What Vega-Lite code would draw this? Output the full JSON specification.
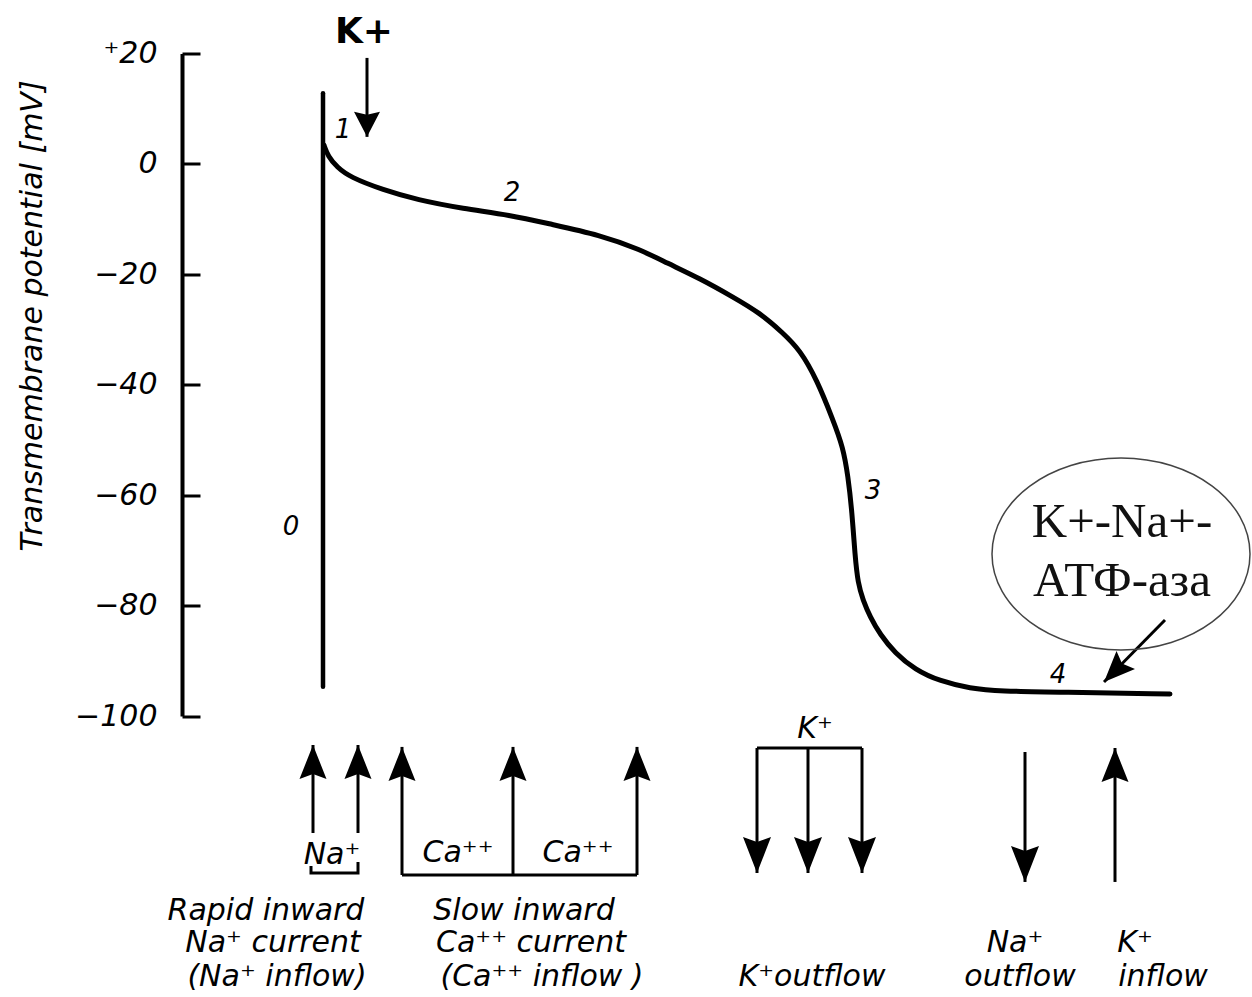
{
  "$schema": "https://vega.github.io/schema/vega-lite/v6.json",
  "width": 1070,
  "height": 662.5,
  "autosize": {"type": "none"},
  "padding": {"left": 182, "top": 53.5, "right": 0, "bottom": 281},
  "background": "white",
  "config": {"view": {"stroke": null}},
  "datasets": {
    "ap": [
      {"t": 142, "mV": 3.4}, {"t": 146, "mV": 1.4}, {"t": 155, "mV": -0.6}, {"t": 168, "mV": -2.4}, {"t": 201, "mV": -4.7},
      {"t": 235, "mV": -6.5}, {"t": 281, "mV": -8.1}, {"t": 328, "mV": -9.25}, {"t": 368, "mV": -10.88},
      {"t": 418, "mV": -12.87}, {"t": 458, "mV": -15.48}, {"t": 485, "mV": -17.95}, {"t": 518, "mV": -20.75},
      {"t": 551, "mV": -24.1}, {"t": 578, "mV": -27.0}, {"t": 601, "mV": -30.62}, {"t": 618, "mV": -33.7},
      {"t": 635, "mV": -39.14}, {"t": 651, "mV": -46.38}, {"t": 661, "mV": -51.27}, {"t": 666, "mV": -56.5},
      {"t": 670, "mV": -63.0}, {"t": 673, "mV": -71.0}, {"t": 676, "mV": -76.0}, {"t": 681, "mV": -79.0},
      {"t": 688, "mV": -82.0}, {"t": 698, "mV": -85.2}, {"t": 713, "mV": -88.6}, {"t": 733, "mV": -91.6},
      {"t": 758, "mV": -93.7}, {"t": 788, "mV": -95.0}, {"t": 818, "mV": -95.5}, {"t": 878, "mV": -95.7},
      {"t": 988, "mV": -96.0}
    ],
    "upstroke": [{"t": 141, "from": -94.7, "to": 12.8}],
    "arrows": [
      {"x0": 131, "y0": -121.19, "x1": 131, "y1": -105.25, "kind": "up"},
      {"x0": 176, "y0": -121.19, "x1": 176, "y1": -105.25, "kind": "up"},
      {"x0": 220, "y0": -128.8, "x1": 220, "y1": -105.6, "kind": "up"},
      {"x0": 331, "y0": -128.8, "x1": 331, "y1": -105.6, "kind": "up"},
      {"x0": 455, "y0": -128.8, "x1": 455, "y1": -105.6, "kind": "up"},
      {"x0": 575, "y0": -105.8, "x1": 575, "y1": -128.44, "kind": "down"},
      {"x0": 626, "y0": -105.8, "x1": 626, "y1": -128.44, "kind": "down"},
      {"x0": 680, "y0": -105.8, "x1": 680, "y1": -128.44, "kind": "down"},
      {"x0": 843, "y0": -106.52, "x1": 843, "y1": -130.06, "kind": "down"},
      {"x0": 933, "y0": -130.06, "x1": 933, "y1": -105.8, "kind": "up"},
      {"x0": 185, "y0": 19.2, "x1": 185, "y1": 4.9, "kind": "downK"},
      {"x0": 983, "y0": -82.6, "x1": 922, "y1": -93.84, "kind": "diag"}
    ],
    "brackets": [
      {"id": "Na", "seq": 0, "x": 129, "y": -127.17},
      {"id": "Na", "seq": 1, "x": 129, "y": -128.44},
      {"id": "Na", "seq": 2, "x": 176, "y": -128.44},
      {"id": "Na", "seq": 3, "x": 176, "y": -126.45},
      {"id": "Ca", "seq": 0, "x": 220, "y": -128.8},
      {"id": "Ca", "seq": 1, "x": 455, "y": -128.8},
      {"id": "K", "seq": 0, "x": 575, "y": -105.8},
      {"id": "K", "seq": 1, "x": 680, "y": -105.8}
    ],
    "pump": [{"x": 939, "y": -70.65}],
    "pumpText": [
      {"x": 940, "y": -67.57, "text": "K+-Na+-"},
      {"x": 940, "y": -78.26, "text": "АТФ-аза"}
    ],
    "phases": [
      {"x": 161, "y": 6.14, "text": "1"},
      {"x": 330, "y": -5.27, "text": "2"},
      {"x": 691, "y": -59.24, "text": "3"},
      {"x": 876, "y": -92.57, "text": "4"},
      {"x": 109, "y": -65.76, "text": "0"}
    ],
    "kTop": [{"x": 182, "y": 23.9, "text": "K+"}],
    "ions": [
      {"x": 150, "y": -125.17, "text": "Na⁺"},
      {"x": 276, "y": -124.9, "text": "Ca⁺⁺"},
      {"x": 396, "y": -124.9, "text": "Ca⁺⁺"},
      {"x": 633, "y": -102.35, "text": "K⁺"}
    ],
    "desc": [
      {"x": 84, "y": -135.3, "text": "Rapid inward"},
      {"x": 91, "y": -141.1, "text": "Na⁺ current"},
      {"x": 95, "y": -147.27, "text": "(Na⁺ inflow)"},
      {"x": 342, "y": -135.3, "text": "Slow inward"},
      {"x": 349, "y": -141.1, "text": "Ca⁺⁺ current"},
      {"x": 360, "y": -147.27, "text": "(Ca⁺⁺ inflow )"},
      {"x": 630, "y": -147.27, "text": "K⁺outflow"},
      {"x": 833, "y": -141.1, "text": "Na⁺"},
      {"x": 838, "y": -147.27, "text": "outflow"},
      {"x": 953, "y": -141.1, "text": "K⁺"},
      {"x": 981, "y": -147.27, "text": "inflow"}
    ]
  },
  "layer": [
    {
      "data": {"name": "ap"},
      "mark": {"type": "line", "color": "black", "strokeWidth": 5, "interpolate": "basis", "strokeCap": "round"},
      "encoding": {
        "x": {"field": "t", "type": "quantitative", "scale": {"domain": [0, 1070], "nice": false, "zero": false}, "axis": null},
        "y": {
          "field": "mV", "type": "quantitative",
          "scale": {"domain": [-100, 20], "nice": false, "zero": false},
          "title": "Transmembrane potential [mV]",
          "axis": {
            "values": [-100, -80, -60, -40, -20, 0, 20],
            "labelExpr": "datum.value > 0 ? '⁺' + datum.label : datum.label",
            "labelFont": "DejaVu Sans", "labelFontStyle": "italic", "labelFontSize": 30, "labelColor": "black",
            "labelPadding": 43, "labelFlush": false, "labelOverlap": false, "labelBound": false,
            "tickSize": -18, "tickWidth": 3, "tickColor": "black",
            "domainWidth": 4, "domainColor": "black", "grid": false,
            "titleFont": "DejaVu Sans", "titleFontStyle": "italic", "titleFontWeight": "normal", "titleFontSize": 30,
            "titleColor": "black", "titleX": -150, "titleY": 262, "titleAngle": -90, "titleAlign": "center", "titleBaseline": "middle"
          }
        }
      }
    },
    {
      "data": {"name": "upstroke"},
      "mark": {"type": "rule", "color": "black", "strokeWidth": 4.5, "strokeCap": "round"},
      "encoding": {
        "x": {"field": "t", "type": "quantitative"},
        "y": {"field": "from", "type": "quantitative"},
        "y2": {"field": "to"}
      }
    },
    {
      "data": {"name": "arrows"},
      "mark": {"type": "rule", "color": "black", "strokeWidth": 3},
      "encoding": {
        "x": {"field": "x0", "type": "quantitative"},
        "x2": {"field": "x1"},
        "y": {"field": "y0", "type": "quantitative"},
        "y2": {"field": "y1"}
      }
    },
    {
      "data": {"name": "arrows"},
      "mark": {"type": "point", "filled": true, "size": 400, "color": "black", "opacity": 1, "strokeWidth": 0},
      "encoding": {
        "x": {"field": "x1", "type": "quantitative"},
        "y": {"field": "y1", "type": "quantitative"},
        "shape": {
          "field": "kind", "type": "nominal", "legend": null,
          "scale": {
            "domain": ["up", "down", "downK", "diag"],
            "range": [
              "M0,0L1.35,3.4L0,2.9L-1.35,3.4Z",
              "M0,0L1.4,-3.6L0,-3.1L-1.4,-3.6Z",
              "M0,0L1.3,-2.5L0,-2.2L-1.3,-2.5Z",
              "M0,0L3.1,-1.3L1.8,-1.85L1.25,-3.1Z"
            ]
          }
        }
      }
    },
    {
      "data": {"name": "brackets"},
      "mark": {"type": "line", "color": "black", "strokeWidth": 3},
      "encoding": {
        "x": {"field": "x", "type": "quantitative"},
        "y": {"field": "y", "type": "quantitative"},
        "detail": {"field": "id", "type": "nominal"},
        "order": {"field": "seq", "type": "quantitative"}
      }
    },
    {
      "data": {"name": "pump"},
      "mark": {
        "type": "point", "filled": false, "size": 40000, "stroke": "#444444", "strokeWidth": 1.5, "opacity": 1,
        "shape": "M1.29,0C1.29,0.5302,0.7125,0.96,0,0.96C-0.7125,0.96,-1.29,0.5302,-1.29,0C-1.29,-0.5302,-0.7125,-0.96,0,-0.96C0.7125,-0.96,1.29,-0.5302,1.29,0Z"
      },
      "encoding": {
        "x": {"field": "x", "type": "quantitative"},
        "y": {"field": "y", "type": "quantitative"}
      }
    },
    {
      "data": {"name": "pumpText"},
      "mark": {"type": "text", "font": "Liberation Serif", "fontSize": 49, "color": "#111111", "align": "center", "baseline": "alphabetic"},
      "encoding": {
        "x": {"field": "x", "type": "quantitative"},
        "y": {"field": "y", "type": "quantitative"},
        "text": {"field": "text"}
      }
    },
    {
      "data": {"name": "phases"},
      "mark": {"type": "text", "font": "DejaVu Sans", "fontStyle": "italic", "fontSize": 26, "color": "black", "align": "center", "baseline": "middle"},
      "encoding": {
        "x": {"field": "x", "type": "quantitative"},
        "y": {"field": "y", "type": "quantitative"},
        "text": {"field": "text"}
      }
    },
    {
      "data": {"name": "kTop"},
      "mark": {"type": "text", "font": "DejaVu Sans", "fontWeight": "bold", "fontSize": 36, "color": "black", "align": "center", "baseline": "middle"},
      "encoding": {
        "x": {"field": "x", "type": "quantitative"},
        "y": {"field": "y", "type": "quantitative"},
        "text": {"field": "text"}
      }
    },
    {
      "data": {"name": "ions"},
      "mark": {"type": "text", "font": "DejaVu Sans", "fontStyle": "italic", "fontSize": 30, "color": "black", "align": "center", "baseline": "middle"},
      "encoding": {
        "x": {"field": "x", "type": "quantitative"},
        "y": {"field": "y", "type": "quantitative"},
        "text": {"field": "text"}
      }
    },
    {
      "data": {"name": "desc"},
      "mark": {"type": "text", "font": "DejaVu Sans", "fontStyle": "italic", "fontSize": 30, "color": "black", "align": "center", "baseline": "middle"},
      "encoding": {
        "x": {"field": "x", "type": "quantitative"},
        "y": {"field": "y", "type": "quantitative"},
        "text": {"field": "text"}
      }
    }
  ]
}
